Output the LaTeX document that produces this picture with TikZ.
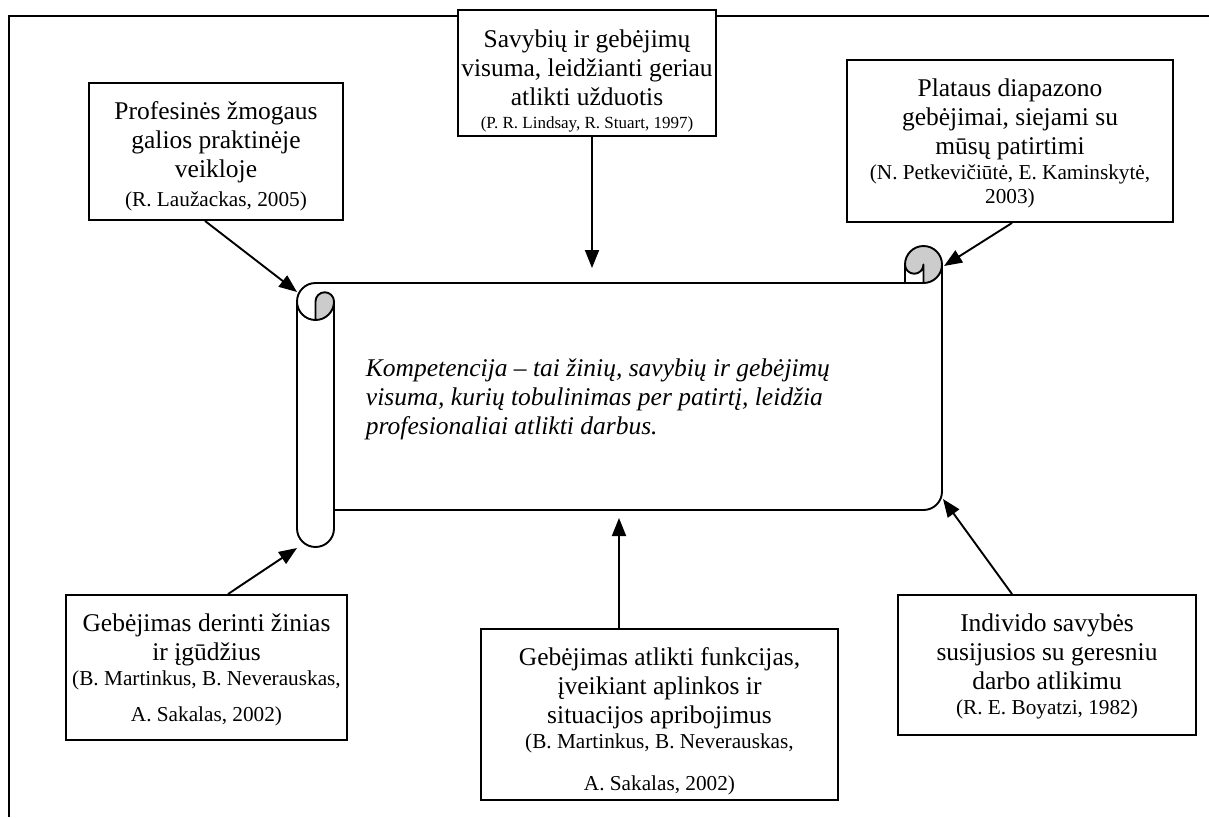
\documentclass[tikz,border=0pt]{standalone}
\usepackage{fontspec}
\setmainfont{Liberation Serif}
\usetikzlibrary{arrows.meta}
\newcommand\mainsz{\fontsize{25.5}{29.3}\selectfont}
\newcommand\citesz{\fontsize{21.25}{24.4}\selectfont}
\newcommand\smallcitesz{\fontsize{17}{19.5}\selectfont}
\definecolor{curlgray}{gray}{0.8}
\begin{document}
\begin{tikzpicture}[x=1pt,y=-1pt,
  line width=1.9pt,
  srcbox/.style={draw, line width=1.9pt, fill=white, inner sep=0pt, rectangle},
  lines/.style={anchor=base, inner sep=0pt},
  arr/.style={-{Triangle[length=18pt,width=14pt]}, line width=1.9pt},
  scrollline/.style={line width=1.9pt, line join=round}]
\useasboundingbox (0,0) rectangle (1209,817);

% page frame (left and top edges)
\draw (1209,16) -- (9,16) -- (9,817);

% source boxes
\node[srcbox, minimum width=254, minimum height=137] (b1) at (216,151.5) {};
\node[srcbox, minimum width=258, minimum height=126] (b2) at (587,73) {};
\node[srcbox, minimum width=326, minimum height=162] (b3) at (1010,141) {};
\node[srcbox, minimum width=281, minimum height=145] (b4) at (206.5,667.5) {};
\node[srcbox, minimum width=357, minimum height=171] (b5) at (659.5,714.5) {};
\node[srcbox, minimum width=298, minimum height=140] (b6) at (1047,665) {};

% box texts
\node[lines] (t1) at (216,119) {\mainsz\begin{tabular}[t]{@{}c@{}}Profesinės žmogaus\\ galios praktinėje\\ veikloje\\ {\citesz (R. Laužackas, 2005)}\end{tabular}};
\node[lines] (t2) at (587,47) {\mainsz\begin{tabular}[t]{@{}c@{}}Savybių ir gebėjimų\\ visuma, leidžianti geriau\\ atlikti užduotis\\[-6pt] {\smallcitesz (P. R. Lindsay, R. Stuart, 1997)}\end{tabular}};
\node[lines] (t3) at (1010,96) {\mainsz\begin{tabular}[t]{@{}c@{}}Plataus diapazono\\ gebėjimai, siejami su\\ mūsų patirtimi\\[-4pt] {\citesz (N. Petkevičiūtė, E. Kaminskytė,}\\[-6pt] {\citesz 2003)}\end{tabular}};
\node[lines] (t4) at (206.5,631) {\mainsz\begin{tabular}[t]{@{}c@{}}Gebėjimas derinti žinias\\ ir įgūdžius\\[-4pt] {\citesz (B. Martinkus, B. Neverauskas,}\\[7pt] {\citesz A. Sakalas, 2002)}\end{tabular}};
\node[lines] (t5) at (659.5,665) {\mainsz\begin{tabular}[t]{@{}c@{}}Gebėjimas atlikti funkcijas,\\ įveikiant aplinkos ir\\ situacijos apribojimus\\[-4pt] {\citesz (B. Martinkus, B. Neverauskas,}\\[12pt] {\citesz A. Sakalas, 2002)}\end{tabular}};
\node[lines] (t6) at (1047,631) {\mainsz\begin{tabular}[t]{@{}c@{}}Individo savybės\\ susijusios su geresniu\\ darbo atlikimu\\[-4pt] {\citesz (R. E. Boyatzi, 1982)}\end{tabular}};

% scroll: gray curls
\fill[curlgray] (923.5,283) arc[start angle=90,end angle=-180,radius=18.5]
  arc[start angle=180,end angle=0,radius=9.25] -- cycle;
\filldraw[curlgray, draw=black, scrollline] (315.5,320) -- (315.5,301.5)
  arc[start angle=180,end angle=360,radius=9.25]
  arc[start angle=0,end angle=90,radius=18.5] -- cycle;
% scroll: outline
\draw[scrollline] (297,301.5) arc[start angle=180,end angle=270,radius=18.5]
  -- (905,283) -- (905,264.5) arc[start angle=180,end angle=360,radius=18.5]
  -- (942,491.5) arc[start angle=0,end angle=90,radius=18.5]
  -- (334,510) -- (334,528.5) arc[start angle=0,end angle=180,radius=18.5] -- cycle;
% scroll: inner strokes
\draw[scrollline] (905,283) -- (923.5,283) -- (923.5,264.5) arc[start angle=0,end angle=180,radius=9.25];
\draw[scrollline] (942,264.5) arc[start angle=0,end angle=90,radius=18.5];
\draw[scrollline] (334,301.5) -- (334,510);
\draw[scrollline] (297,301.5) arc[start angle=180,end angle=90,radius=18.5];

% scroll text
\node[lines, anchor=base west] (def) at (365,376) {\mainsz\itshape\begin{tabular}[t]{@{}l@{}}Kompetencija – tai žinių, savybių ir gebėjimų\\ visuma, kurių tobulinimas per patirtį, leidžia\\ profesionaliai atlikti darbus.\end{tabular}};

% arrow tips on the scroll
\coordinate (p1) at (297,292);
\coordinate (p2) at (592,268);
\coordinate (p3) at (944,266);
\coordinate (p4) at (297,548);
\coordinate (p5) at (619,518);
\coordinate (p6) at (943,499);

\draw[arr] ([xshift=-11]b1.south) -- (p1);
\draw[arr] ([xshift=5]b2.south) -- (p2);
\draw[arr] ([xshift=2]b3.south) -- (p3);
\draw[arr] ([xshift=21.5]b4.north) -- (p4);
\draw[arr] ([xshift=-40.5]b5.north) -- (p5);
\draw[arr] ([xshift=-35]b6.north) -- (p6);
\end{tikzpicture}
\end{document}
